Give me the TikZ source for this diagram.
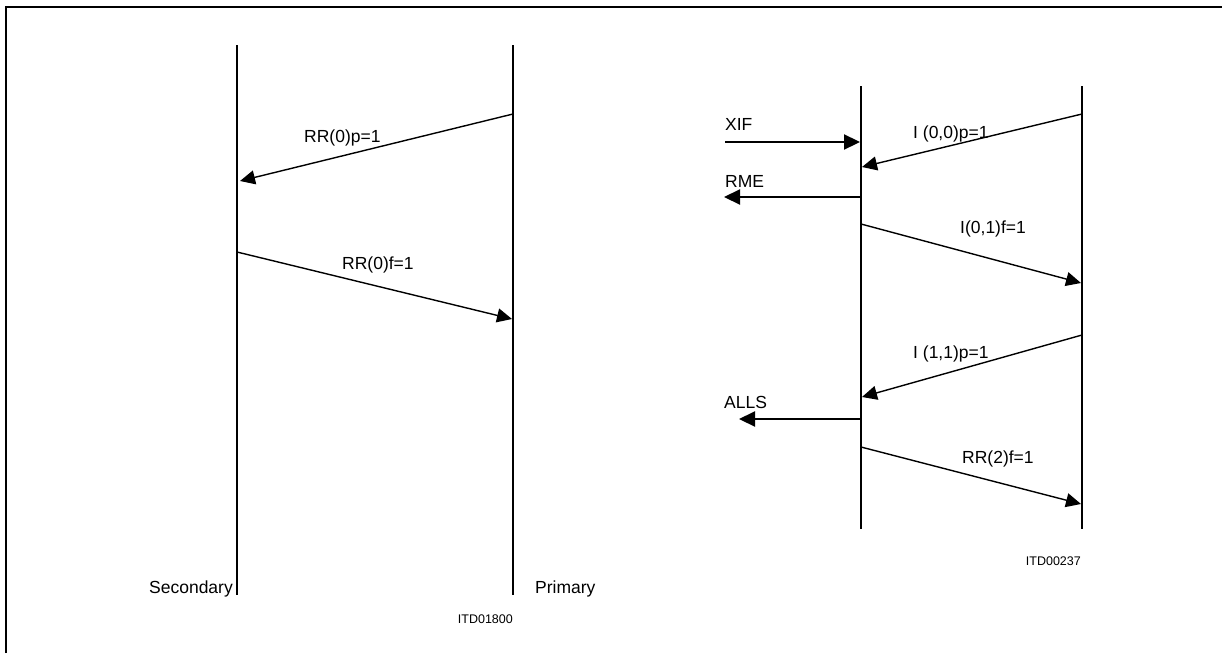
\documentclass[tikz,border=0pt]{standalone}
\usepackage{fontspec}
\setmainfont{Liberation Sans}
\usetikzlibrary{arrows.meta}

\begin{document}
\begin{tikzpicture}[x=1pt, y=-1pt,
    life/.style={line width=2pt},
    msg/.style={-{Triangle[length=15pt, width=14pt]}, line width=1.4pt},
    sig/.style={-{Triangle[length=16pt, width=15pt]}, line width=2.2pt},
    lbl/.style={font=\fontsize{17.5}{20}\selectfont, inner sep=0pt, anchor=base west},
    side/.style={font=\fontsize{17.5}{20}\selectfont, inner sep=0pt},
    code/.style={font=\fontsize{12.5}{14}\selectfont, inner sep=0pt, anchor=base east}
  ]
  \useasboundingbox (0,0) rectangle (1222,653);

  % frame
  \draw[line width=2pt] (6,653) |- (1222,7);

  % left: secondary / primary
  \coordinate (secTop) at (237,45);
  \coordinate (secBot) at (237,595);
  \coordinate (priTop) at (513,45);
  \coordinate (priBot) at (513,595);
  \draw[life] (secTop) -- (secBot);
  \draw[life] (priTop) -- (priBot);

  \coordinate (pri1) at (513,114);
  \coordinate (sec1) at (240,181);
  \coordinate (sec2) at (237,252);
  \coordinate (pri2) at (512,319);
  \draw[msg] (pri1) -- (sec1);
  \draw[msg] (sec2) -- (pri2);

  \node[lbl] (rrp) at (304,142) {RR(0)p=1};
  \node[lbl] (rrf) at (342,269) {RR(0)f=1};
  \node[side, anchor=base east] (secondary) at (233,593) {Secondary};
  \node[side, anchor=base west] (primary) at (535,593) {Primary};
  \node[code] (idLeft) at (513,623) {ITD01800};

  % right: station A / station B
  \coordinate (aTop) at (861,86);
  \coordinate (aBot) at (861,529);
  \coordinate (bTop) at (1082,86);
  \coordinate (bBot) at (1082,529);
  \draw[life] (aTop) -- (aBot);
  \draw[life] (bTop) -- (bBot);

  \coordinate (xifIn) at (725,142);
  \coordinate (xifA) at (860,142);
  \coordinate (b1) at (1082,114);
  \coordinate (a1) at (862,167);
  \coordinate (rmeA) at (861,197);
  \coordinate (rmeOut) at (724,197);
  \coordinate (a2) at (861,224);
  \coordinate (b2) at (1081,283);
  \coordinate (b3) at (1082,335);
  \coordinate (a3) at (862,397);
  \coordinate (allsA) at (861,419);
  \coordinate (allsOut) at (739,419);
  \coordinate (a4) at (861,447);
  \coordinate (b4) at (1081,504);

  \draw[sig] (xifIn) -- (xifA);
  \draw[msg] (b1) -- (a1);
  \draw[sig] (rmeA) -- (rmeOut);
  \draw[msg] (a2) -- (b2);
  \draw[msg] (b3) -- (a3);
  \draw[sig] (allsA) -- (allsOut);
  \draw[msg] (a4) -- (b4);

  \node[lbl] (xif) at (725,130) {XIF};
  \node[lbl] (i00) at (913,138) {I (0,0)p=1};
  \node[lbl] (rme) at (725,187) {RME};
  \node[lbl] (i01) at (960,233) {I(0,1)f=1};
  \node[lbl] (i11) at (913,358) {I (1,1)p=1};
  \node[lbl] (alls) at (724,408) {ALLS};
  \node[lbl] (rr2) at (962,463) {RR(2)f=1};
  \node[code] (idRight) at (1081,565) {ITD00237};

\end{tikzpicture}
\end{document}
